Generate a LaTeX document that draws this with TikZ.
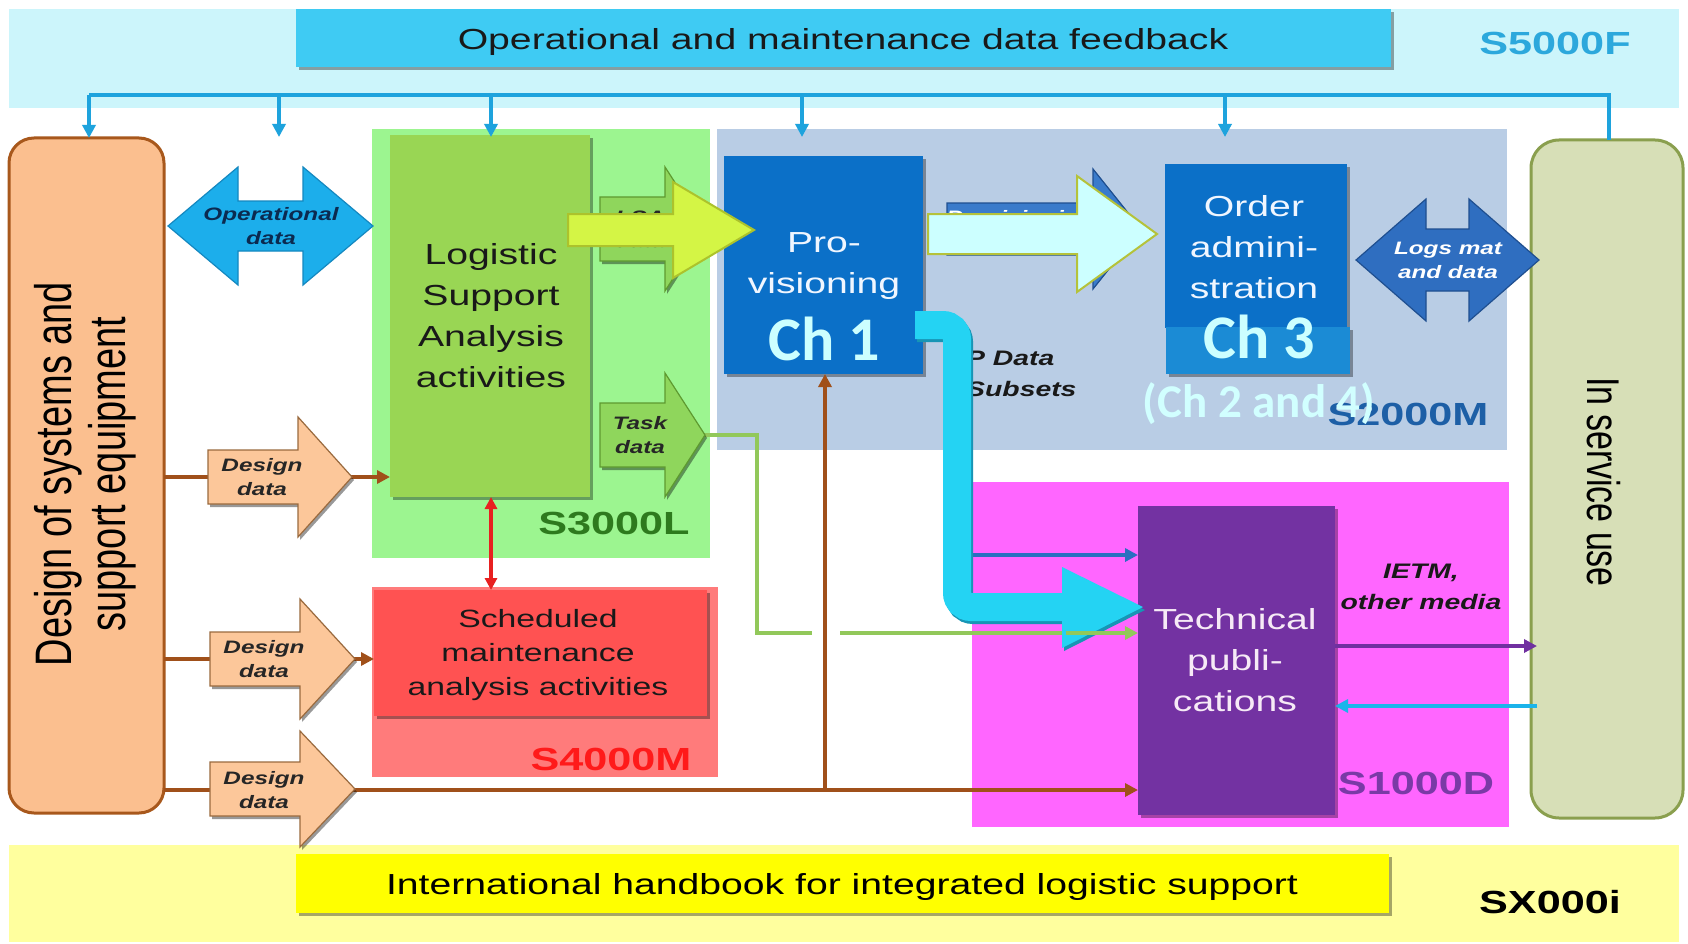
\documentclass[tikz,border=0pt]{standalone}
\usepackage{fontspec}
\setmainfont{Liberation Sans}
\newfontfamily\wf{Liberation Sans}[FakeStretch=1.35]
\newfontfamily\chf{Carlito}
\usetikzlibrary{arrows.meta,shadows}
\definecolor{cband}{HTML}{CCF5FB}
\definecolor{ctop}{HTML}{3FCBF3}
\definecolor{cfb}{HTML}{1EA3DD}
\definecolor{cyband}{HTML}{FFFF9E}
\definecolor{cybox}{HTML}{FFFF00}
\definecolor{cs3bg}{HTML}{9CF590}
\definecolor{clsa}{HTML}{99D654}
\definecolor{cs2bg}{HTML}{B9CDE5}
\definecolor{cprov}{HTML}{0B70C8}
\definecolor{cch3}{HTML}{1B8BD5}
\definecolor{cch}{HTML}{CCFFFF}
\definecolor{cs4bg}{HTML}{FF7B7B}
\definecolor{csched}{HTML}{FF5252}
\definecolor{cs1bg}{HTML}{FF66FF}
\definecolor{ctech}{HTML}{7332A2}
\definecolor{cins}{HTML}{D7DFB7}
\definecolor{cinsb}{HTML}{8A9F4E}
\definecolor{corange}{HTML}{FBBF8F}
\definecolor{cobord}{HTML}{A8581C}
\definecolor{cdes}{HTML}{FCC79A}
\definecolor{cdesb}{HTML}{9A6A3E}
\definecolor{cbrown}{HTML}{A0501A}
\definecolor{cgreen}{HTML}{92C85A}
\definecolor{cgarr}{HTML}{8FD65C}
\definecolor{cgarrb}{HTML}{5E9A30}
\definecolor{cyarr}{HTML}{D4F545}
\definecolor{cyarrb}{HTML}{ACC22C}
\definecolor{clc}{HTML}{CCFFFF}
\definecolor{clcb}{HTML}{B5C23A}
\definecolor{cL}{HTML}{24D3F3}
\definecolor{cLs}{HTML}{1795B5}
\definecolor{cop}{HTML}{1CAEEB}
\definecolor{copb}{HTML}{1488C0}
\definecolor{copt}{HTML}{0B2A50}
\definecolor{clg}{HTML}{2F6EC0}
\definecolor{clgb}{HTML}{1F4F90}
\definecolor{cpd}{HTML}{3A7BCB}
\definecolor{cblue}{HTML}{2A6FC0}
\definecolor{cred}{HTML}{E82020}
\definecolor{cpurp}{HTML}{7030A0}
\definecolor{cback}{HTML}{1AB4EA}
\definecolor{cs3}{HTML}{2E7A1E}
\definecolor{cs2}{HTML}{1D5FA6}
\definecolor{cs4}{HTML}{FF1A1A}
\definecolor{cs1}{HTML}{7A3AA6}
\definecolor{cs5}{HTML}{2CA8DC}
\definecolor{cwt}{HTML}{F0F6FF}
\definecolor{ctt}{HTML}{F6EAF6}
\newcommand\myRarrow[7]{\path[#1] ({#2},{#5-#6}) -- ({#3},{#5-#6}) -- ({#3},{#5-#7}) -- ({#4},{#5}) -- ({#3},{#5+#7}) -- ({#3},{#5+#6}) -- ({#2},{#5+#6}) -- cycle;}
\newcommand\myDarrow[7]{\path[#1] ({#2},{#4}) -- ({#2+#7},{#4-#6}) -- ({#2+#7},{#4-#5}) -- ({#3-#7},{#4-#5}) -- ({#3-#7},{#4-#6}) -- ({#3},{#4}) -- ({#3-#7},{#4+#6}) -- ({#3-#7},{#4+#5}) -- ({#2+#7},{#4+#5}) -- ({#2+#7},{#4+#6}) -- cycle;}
\begin{document}
\begin{tikzpicture}[x=1pt,y=-1pt,
  bgbox/.style={fill=#1, draw=none, inner sep=0, outer sep=0, anchor=north west},
  shd/.style={drop shadow={shadow xshift=3pt, shadow yshift=-3pt, opacity=0.35, fill=black}},
  big/.style={font=\wf\fontsize{29}{41}\selectfont, align=center, inner sep=0},
  med/.style={font=\wf\fontsize{25}{34}\selectfont, align=center, inner sep=0},
  lab/.style={font=\wf\bfseries\fontsize{32}{36}\selectfont, inner sep=0},
  sm/.style={font=\wf\bfseries\itshape\fontsize{18}{24}\selectfont, align=center, inner sep=0, text=black!85},
  smm/.style={font=\wf\bfseries\itshape\fontsize{21}{31}\selectfont, align=center, inner sep=0, text=black!90},
  chfont/.style={font=\chf\bfseries\fontsize{62}{62}\selectfont, text=cch, inner sep=0},
  chfonttwo/.style={font=\chf\bfseries\fontsize{47}{50}\selectfont, text=cch!90!white, inner sep=0},
  tipA/.style={-{Triangle[length=13pt,width=13pt]}},
  fbl/.style={draw=cfb, line width=3.5pt},
  brl/.style={draw=cbrown, line width=4pt},
  grl/.style={draw=cgreen, line width=4pt},
  desarr/.style={fill=cdes, draw=cdesb, line width=1.2pt, drop shadow={shadow xshift=2pt, shadow yshift=-3pt, opacity=0.4, fill=black}},
  grarr/.style={fill=cgarr, draw=cgarrb, line width=1.2pt, drop shadow={shadow xshift=2pt, shadow yshift=-3pt, opacity=0.4, fill=black}},
  oparr/.style={fill=cop, draw=copb, line width=1.2pt},
  lgarr/.style={fill=clg, draw=clgb, line width=1.2pt},
  pdarr/.style={fill=cpd, draw=clgb, line width=1.2pt},
  yarr/.style={fill=cyarr, draw=cyarrb, line width=2pt},
  lcarr/.style={fill=clc, draw=clcb, line width=2pt}
]
\useasboundingbox (0,0) rectangle (1688,944);
\fill[white] (0,0) rectangle (1688,944);
% background bands
\node[bgbox=cband, minimum width=1670pt, minimum height=99pt] (s5bg) at (9,9) {};
\node[bgbox=cyband, minimum width=1670pt, minimum height=97pt] (sxbg) at (9,845) {};
\node[bgbox=cs3bg, minimum width=338pt, minimum height=429pt] (s3bg) at (372,129) {};
\node[bgbox=cs2bg, minimum width=790pt, minimum height=321pt] (s2bg) at (717,129) {};
\node[bgbox=cs4bg, minimum width=346pt, minimum height=190pt] (s4bg) at (372,587) {};
\node[bgbox=cs1bg, minimum width=537pt, minimum height=345pt] (s1bg) at (972,482) {};
% top and bottom boxes
\node[bgbox=ctop, shd, minimum width=1095pt, minimum height=58pt] (topbox) at (296,9) {};
\node[font=\wf\fontsize{29}{34}\selectfont, text=black!90, inner sep=0] (toptxt) at (843,42) {Operational and maintenance data feedback};
\node[bgbox=cybox, shd, minimum width=1093pt, minimum height=59pt] (botbox) at (296,854) {};
\node[font=\wf\fontsize{29}{34}\selectfont, text=black, inner sep=0] (bottxt) at (842,887) {International handbook for integrated logistic support};
% main boxes
\node[bgbox=corange, draw=cobord, line width=3pt, rounded corners=25pt, minimum width=155pt, minimum height=675pt] (orange) at (9,138) {};
\node[bgbox=clsa, shd, minimum width=200pt, minimum height=362pt] (lsa) at (390,135) {};
\node[bgbox=cprov, shd, minimum width=199pt, minimum height=218pt] (prov) at (724,156) {};
\node[bgbox=cprov, shd, minimum width=182pt, minimum height=164pt] (order) at (1165,164) {};
\node[bgbox=cch3, shd, minimum width=184pt, minimum height=47pt] (ch3r) at (1166,327) {};
\node[bgbox=ctech, shd, minimum width=197pt, minimum height=309pt] (tech) at (1138,506) {};
\node[bgbox=csched, shd, minimum width=333pt, minimum height=126pt] (sched) at (374,590) {};
\node[bgbox=cins, draw=cinsb, line width=3pt, rounded corners=28pt, minimum width=152pt, minimum height=678pt] (inserv) at (1531,140) {};
% feedback lines
\coordinate (fbL) at (89,95);
\coordinate (fbR) at (1609,95);
\draw[fbl] (fbL) -- (fbR) -- (fbR |- inserv.north);
\draw[fbl,tipA] (fbL) -- (fbL |- orange.north);
\foreach \xx in {279,491,802,1225} {\draw[fbl,tipA] (\xx,95) -- (\xx,137);}
% brown design lines
\coordinate (d1) at (262,477);
\coordinate (d2) at (265,659);
\coordinate (d3) at (265,790);
\coordinate (brj) at (825,790);
\draw[brl,tipA] (orange.east |- d1) -- (lsa.west |- d1);
\draw[brl,tipA] (orange.east |- d2) -- (sched.west |- d2);
\draw[brl,tipA] (orange.east |- d3) -- (tech.west |- d3);
\draw[brl,tipA] (brj) -- (brj |- prov.south);
% task data green line (with gap)
\coordinate (tdtip) at (703,435);
\draw[grl] (tdtip) -- (757,435) -- (757,633) -- (812,633);
\draw[grl,tipA] (840,633) -- (tech.west |- 0,633);
% blue line
\draw[draw=cblue, line width=4pt, tipA] (972,555) -- (tech.west |- 0,555);
% red double arrow
\draw[draw=cred, line width=3.5pt, {Triangle[length=12pt,width=12pt]}-{Triangle[length=12pt,width=12pt]}] (lsa.south -| 491,0) -- (sched.north -| 491,0);
% purple and cyan to / from in service use
\draw[draw=cpurp, line width=4pt, tipA] (tech.east |- 0,646) -- (1537,646);
\draw[draw=cback, line width=4pt, tipA] (1537,706) -- (tech.east |- 0,706);
% block arrows
\myDarrow{oparr}{168}{373}{226}{25}{59}{70}
\node[sm, text=copt] (opd) at (271,226) {Operational\\data};
\myRarrow{desarr}{208}{298}{352}{477}{27}{60}
\node[sm] (dd1) at (262,477) {Design\\data};
\myRarrow{desarr}{210}{300}{355}{659}{27}{60}
\node[sm] (dd2) at (264,659) {Design\\data};
\myRarrow{desarr}{210}{300}{355}{789}{27}{58}
\node[sm] (dd3) at (264,790) {Design\\data};
\myRarrow{grarr}{600}{665}{705}{229}{32}{62}
\node[sm] (lsad) at (640,229) {LSA\\data};
\myRarrow{grarr}{600}{665}{705}{435}{32}{62}
\node[sm] (taskd) at (640,435) {Task\\data};
\myRarrow{pdarr}{947}{1093}{1141}{229}{26}{60}
\node[sm, text=white] (provd) at (1020,229) {Provisioning\\data};
\myDarrow{lgarr}{1356}{1539}{260}{31}{61}{70}
\node[sm, text=white] (logs) at (1448,260) {Logs mat\\and data};
% P Data Subsets (partly covered)
\node[smm, anchor=west, align=left] (pds) at (966,374) {P Data\\Subsets};
% overlay arrows
\myRarrow{yarr}{568}{673}{754}{230}{16}{48}
\myRarrow{lcarr}{928}{1077}{1157}{234}{20}{58}
\coordinate (Ls) at (915,325);
\draw[line width=28pt, cLs, rounded corners=14pt] ([shift={(2,3)}]Ls) -- (959,328) -- (959,610) -- (1066,610);
\fill[cLs] (1064,570) -- (1145,610) -- (1064,651) -- cycle;
\draw[line width=28pt, cL, rounded corners=14pt] (Ls) -- (957,325) -- (957,607) -- (1066,607);
\fill[cL] (1062,567) -- (1143,607) -- (1062,648) -- cycle;
\draw[grl] (1066,633) -- (1120,633);
% box texts
\node[big, text=cwt] (provt) at (824,266) {Pro-\\visioning};
\node[chfont] (ch1) at (824,339) {Ch 1};
\node[big, text=cwt] (ordt) at (1254,247) {Order\\admini-\\stration};
\node[lab, text=cs2] (s2l) at (1408,414) {S2000M};
\node[chfont] (ch3) at (1259,337) {Ch 3};
\node[chfonttwo] (ch24) at (1259,404) {(Ch 2 and 4)};
\node[big, text=black!90] (lsat) at (491,316) {Logistic\\Support\\Analysis\\activities};
\node[big, text=ctt] (techt) at (1235,660) {Technical\\publi-\\cations};
\node[med, text=black!90] (schedt) at (538,655) {Scheduled\\maintenance\\analysis activities};
\node[lab, text=cs3] (s3l) at (614,524) {S3000L};
\node[lab, text=cs4] (s4l) at (611,759) {S4000M};
\node[lab, text=cs1] (s1l) at (1416,783) {S1000D};
\node[lab, text=cs5] (s5l) at (1555,43) {S5000F};
\node[lab, text=black] (sxl) at (1550,902) {SX000i};
\node[smm] (ietm) at (1421,587) {IETM,\\other media};
\node[rotate=90, inner sep=0] (dest) at (88,474) {\scalebox{1}[1.35]{\fontsize{38}{40}\selectfont\begin{tabular}{@{}c@{}}Design of systems and\\support equipment\end{tabular}}};
\node[rotate=-90, inner sep=0] (inst) at (1604,482) {\scalebox{1}[1.35]{\fontsize{34}{40}\selectfont In service use}};
\end{tikzpicture}
\end{document}
